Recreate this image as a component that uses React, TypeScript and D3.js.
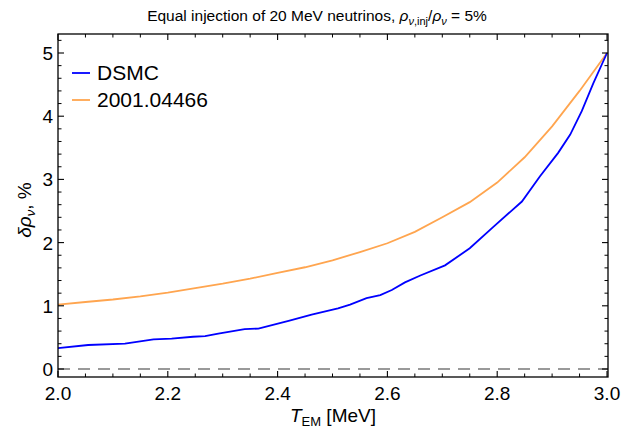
import React from "react";
import * as d3 from "d3";

const dsmcT = [2.0, 2.055, 2.122, 2.174, 2.207, 2.246, 2.268, 2.292, 2.34, 2.365, 2.42, 2.462, 2.51, 2.532, 2.562, 2.587, 2.608, 2.632, 2.66, 2.705, 2.75, 2.793, 2.845, 2.878, 2.911, 2.933, 2.954, 2.975, 3.0];
const dsmcV = [0.33, 0.38, 0.40, 0.47, 0.48, 0.51, 0.52, 0.56, 0.63, 0.64, 0.76, 0.86, 0.96, 1.02, 1.12, 1.17, 1.25, 1.37, 1.48, 1.64, 1.91, 2.25, 2.65, 3.05, 3.42, 3.71, 4.08, 4.52, 5.0];

const refT = [2.0, 2.05, 2.1, 2.15, 2.2, 2.25, 2.3, 2.35, 2.4, 2.45, 2.5, 2.55, 2.6, 2.65, 2.7, 2.75, 2.8, 2.85, 2.9, 2.95, 3.0];
const refV = [1.02, 1.06, 1.10, 1.15, 1.21, 1.28, 1.35, 1.43, 1.52, 1.61, 1.72, 1.85, 1.99, 2.17, 2.40, 2.64, 2.95, 3.35, 3.84, 4.40, 5.0];

const xMajor = [2.0, 2.2, 2.4, 2.6, 2.8, 3.0];
const yMajor = [0, 1, 2, 3, 4, 5];
const seriesNames = ["DSMC", "2001.04466"];

const W = 633, H = 436;
const L = 58, R = 608, T = 34, B = 377;
const FONT = "'Liberation Sans', Arial, sans-serif";

export default function App() {
  const x = d3.scaleLinear().domain([2, 3]).range([L, 607]);
  const y = d3.scaleLinear().domain([0, 5]).range([369, 53]);
  const line = d3.line<[number, number]>().x(d => x(d[0])).y(d => y(d[1]));
  const dsmc: [number, number][] = dsmcT.map((t, i) => [t, dsmcV[i]]);
  const ref: [number, number][] = refT.map((t, i) => [t, refV[i]]);

  const xMinor = d3.range(0, 21).map(i => 2 + i * 0.05).filter((_, i) => i % 4 !== 0);
  const yMinor = d3.range(-0, 27).map(i => i * 0.2).filter((v, i) => i % 5 !== 0 && v < 5.3);

  const maj = 6, min = 3.5;
  return (
    <svg width={W} height={H} style={{ position: "absolute", left: 0, top: 0, background: "#fff" }} fontFamily={FONT}>
      <rect x={0} y={0} width={W} height={H} fill="#fff" />
      <text x={317} y={21} textAnchor="middle" fontSize={15.5} fill="#000">
        Equal injection of 20 MeV neutrinos,{" "}
        <tspan fontStyle="italic">ρ</tspan>
        <tspan fontSize={11} dy={4}><tspan fontStyle="italic">ν</tspan>,inj</tspan>
        <tspan dy={-4}>/</tspan>
        <tspan fontStyle="italic">ρ</tspan>
        <tspan fontSize={11} dy={4} fontStyle="italic">ν</tspan>
        <tspan dy={-4}> = 5%</tspan>
      </text>

      <line x1={L} x2={R} y1={y(0)} y2={y(0)} stroke="#999" strokeWidth={1.8} strokeDasharray="12,8" />

      <path d={line(ref) || ""} fill="none" stroke="#ffa54f" strokeWidth={1.8} />
      <path d={line(dsmc) || ""} fill="none" stroke="#0000ff" strokeWidth={1.8} />

      {/* frame */}
      <rect x={L} y={T} width={R - L} height={B - T} fill="none" stroke="#000" strokeWidth={1.3} />

      {xMajor.map(v => (
        <g key={"xM" + v}>
          <line x1={x(v)} x2={x(v)} y1={B} y2={B - maj} stroke="#000" strokeWidth={1.1} />
          <line x1={x(v)} x2={x(v)} y1={T} y2={T + maj} stroke="#000" strokeWidth={1.1} />
          <text x={x(v)} y={B + 23} textAnchor="middle" fontSize={19}>{v.toFixed(1)}</text>
        </g>
      ))}
      {xMinor.map(v => (
        <g key={"xm" + v}>
          <line x1={x(v)} x2={x(v)} y1={B} y2={B - min} stroke="#000" strokeWidth={1} />
          <line x1={x(v)} x2={x(v)} y1={T} y2={T + min} stroke="#000" strokeWidth={1} />
        </g>
      ))}
      {yMajor.map(v => (
        <g key={"yM" + v}>
          <line x1={L} x2={L + maj} y1={y(v)} y2={y(v)} stroke="#000" strokeWidth={1.1} />
          <line x1={R} x2={R - maj} y1={y(v)} y2={y(v)} stroke="#000" strokeWidth={1.1} />
          <text x={L - 5} y={y(v) + 7} textAnchor="end" fontSize={19}>{v}</text>
        </g>
      ))}
      {yMinor.map(v => (
        <g key={"ym" + v}>
          <line x1={L} x2={L + min} y1={y(v)} y2={y(v)} stroke="#000" strokeWidth={1} />
          <line x1={R} x2={R - min} y1={y(v)} y2={y(v)} stroke="#000" strokeWidth={1} />
        </g>
      ))}

      <text x={333} y={422} textAnchor="middle" fontSize={19}>
        <tspan fontStyle="italic">T</tspan>
        <tspan fontSize={13} dy={4}>EM</tspan>
        <tspan dy={-4}> [MeV]</tspan>
      </text>

      <text transform={`translate(31,${210}) rotate(-90)`} textAnchor="middle" fontSize={19}>
        <tspan fontStyle="italic">δρ</tspan>
        <tspan fontSize={13} dy={4} fontStyle="italic">ν</tspan>
        <tspan dy={-4}>, %</tspan>
      </text>

      {seriesNames.map((n, i) => (
        <g key={n}>
          <line x1={72} x2={90} y1={73 + i * 27} y2={73 + i * 27} stroke={i === 0 ? "#0000ff" : "#ffa54f"} strokeWidth={1.8} />
          <text x={97} y={80 + i * 27} fontSize={21}>{n}</text>
        </g>
      ))}
    </svg>
  );
}
